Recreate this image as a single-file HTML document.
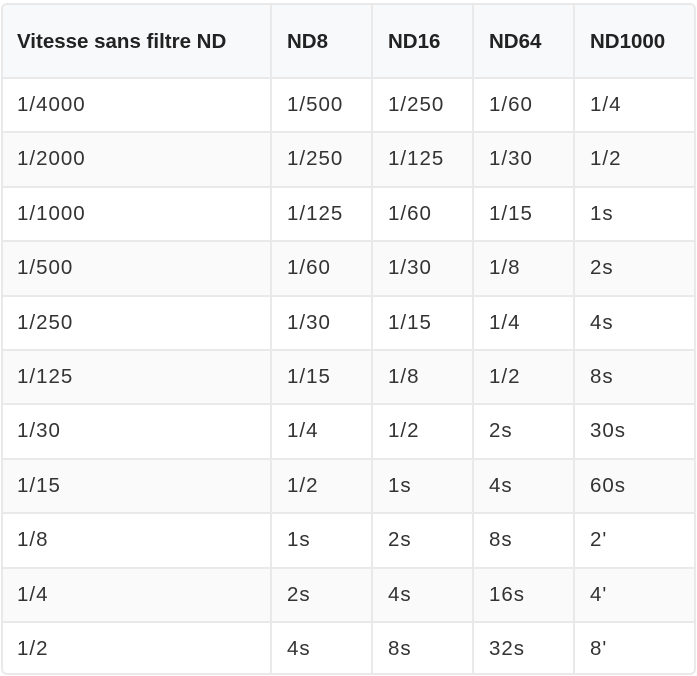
<!DOCTYPE html>
<html><head><meta charset="utf-8">
<style>
html,body{margin:0;padding:0;background:#fff;width:697px;height:676px;overflow:hidden;position:relative;}
#t{position:absolute;left:1px;top:3px;width:695px;height:672px;box-sizing:border-box;border:2px solid #e9e9e9;border-radius:6px;overflow:hidden;background:#fff;}
.row{position:absolute;left:0;width:100%;}
.hd{background:#f8f9fa;}
.st{background:#fafafa;}
.hl{position:absolute;left:0;width:100%;height:2px;background:#e9e9e9;}
.vl{position:absolute;top:0;height:100%;width:2px;background:#e9e9e9;}
.r{position:absolute;left:0;width:697px;height:54.4px;line-height:54.4px;font-family:"Liberation Sans",Arial,sans-serif;font-size:20.5px;color:#333;white-space:nowrap;letter-spacing:1px;}
.r span{position:absolute;top:0;}
.r span:nth-child(1){left:17px}
.r span:nth-child(2){left:287px}
.r span:nth-child(3){left:388px}
.r span:nth-child(4){left:489px}
.r span:nth-child(5){left:590px}
.h{font-weight:bold;color:#222;height:74px;line-height:74px;letter-spacing:0;}
</style></head><body>
<div id="t">
<div class="row hd" style="top:0;height:72px"></div>
<div class="row st" style="top:128px;height:54px"></div>
<div class="row st" style="top:237px;height:54px"></div>
<div class="row st" style="top:346px;height:54px"></div>
<div class="row st" style="top:454px;height:55px"></div>
<div class="row st" style="top:563px;height:55px"></div>

<div class="hl" style="top:72px"></div>
<div class="hl" style="top:126px"></div>
<div class="hl" style="top:181px"></div>
<div class="hl" style="top:235px"></div>
<div class="hl" style="top:290px"></div>
<div class="hl" style="top:344px"></div>
<div class="hl" style="top:398px"></div>
<div class="hl" style="top:453px"></div>
<div class="hl" style="top:507px"></div>
<div class="hl" style="top:562px"></div>
<div class="hl" style="top:616px"></div>

<div class="vl" style="left:267px"></div>
<div class="vl" style="left:368px"></div>
<div class="vl" style="left:469px"></div>
<div class="vl" style="left:570px"></div>
</div>

<div class="r h" style="top:5px"><span>Vitesse sans filtre ND</span><span>ND8</span><span>ND16</span><span>ND64</span><span>ND1000</span></div>
<div class="r" style="top:78px"><span>1/4000</span><span>1/500</span><span>1/250</span><span>1/60</span><span>1/4</span></div>
<div class="r" style="top:132.4px"><span>1/2000</span><span>1/250</span><span>1/125</span><span>1/30</span><span>1/2</span></div>
<div class="r" style="top:186.8px"><span>1/1000</span><span>1/125</span><span>1/60</span><span>1/15</span><span>1s</span></div>
<div class="r" style="top:241.2px"><span>1/500</span><span>1/60</span><span>1/30</span><span>1/8</span><span>2s</span></div>
<div class="r" style="top:295.6px"><span>1/250</span><span>1/30</span><span>1/15</span><span>1/4</span><span>4s</span></div>
<div class="r" style="top:350px"><span>1/125</span><span>1/15</span><span>1/8</span><span>1/2</span><span>8s</span></div>
<div class="r" style="top:404.4px"><span>1/30</span><span>1/4</span><span>1/2</span><span>2s</span><span>30s</span></div>
<div class="r" style="top:458.8px"><span>1/15</span><span>1/2</span><span>1s</span><span>4s</span><span>60s</span></div>
<div class="r" style="top:513.2px"><span>1/8</span><span>1s</span><span>2s</span><span>8s</span><span>2'</span></div>
<div class="r" style="top:567.6px"><span>1/4</span><span>2s</span><span>4s</span><span>16s</span><span>4'</span></div>
<div class="r" style="top:622px"><span>1/2</span><span>4s</span><span>8s</span><span>32s</span><span>8'</span></div>
</body></html>
